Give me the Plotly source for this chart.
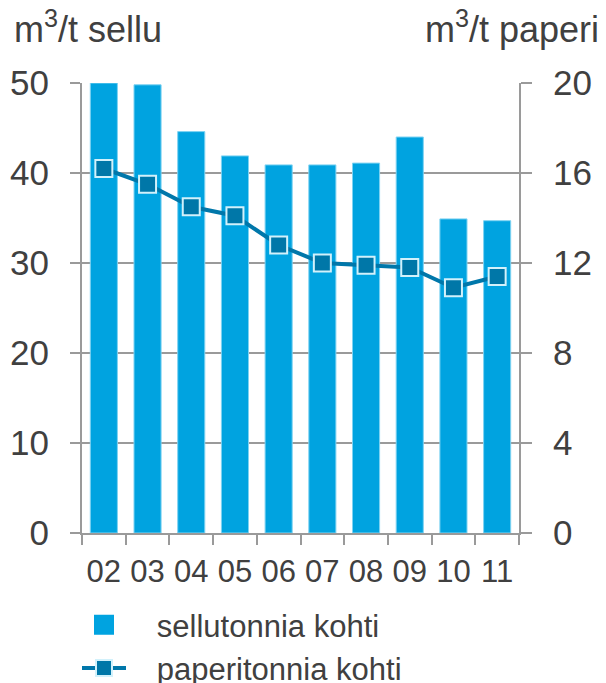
import plotly.graph_objects as go

years = ["02", "03", "04", "05", "06", "07", "08", "09", "10", "11"]
sellu = [50.0, 49.8, 44.6, 41.9, 40.9, 40.9, 41.1, 44.0, 34.9, 34.7]
paperi = [16.2, 15.5, 14.5, 14.1, 12.8, 12.0, 11.9, 11.8, 10.9, 11.4]
left_ticks = [0, 10, 20, 30, 40, 50]
right_ticks = [0, 4, 8, 12, 16, 20]

FONT = "Liberation Sans, Arial, sans-serif"
TXT = "#404040"
GRID = "#9a9a9a"
BAR = "#00A3E0"
NB = "\u00a0\u00a0\u00a0"

L, R, T, B = 82, 87, 83, 150
W, H = 606, 683
PW, PH = W - L - R, H - T - B

fig = go.Figure()
fig.add_trace(go.Bar(
    x=years, y=sellu, name="sellutonnia kohti", showlegend=False,
    marker=dict(color=BAR, line=dict(color="#7FD3F2", width=1)),
    width=0.62, yaxis="y", legendgroup="a",
))
# legend entry for the bars (square symbol, like the reference legend)
fig.add_trace(go.Scatter(
    x=[years[0]], y=[None], name=NB + "sellutonnia kohti", mode="markers",
    marker=dict(symbol="square", size=16, color=BAR,
                line=dict(color=BAR, width=4)),
    legendgroup="a", showlegend=True, hoverinfo="skip",
))
fig.add_trace(go.Scatter(
    x=years, y=paperi, name=NB + "paperitonnia kohti", yaxis="y2",
    mode="lines+markers", legendgroup="b",
    line=dict(color="#0077AA", width=4),
    marker=dict(symbol="square", size=17, color="#0077A8",
                line=dict(color="#D2F1FB", width=2)),
))

fig.update_layout(
    width=W, height=H,
    margin=dict(l=L, r=R, t=T, b=B, autoexpand=False),
    paper_bgcolor="white", plot_bgcolor="white",
    font=dict(family=FONT, color=TXT),
    showlegend=True,
    legend=dict(x=(77 - L) / PW, xanchor="left", y=(PH - (598 - T)) / PH,
                yanchor="top", font=dict(size=31, color=TXT), itemwidth=44,
                tracegroupgap=0, bgcolor="rgba(0,0,0,0)", maxheight=200),
    bargap=0.38,
    xaxis=dict(
        type="category", range=[-0.5, len(years) - 0.5],
        showline=True, linecolor=GRID, linewidth=2,
        ticks="outside", tickson="boundaries", ticklen=10, tickwidth=2,
        tickcolor=GRID, tickfont=dict(size=31, color=TXT), showgrid=False,
        tickangle=0, automargin=False, ticklabelstandoff=10,
    ),
    yaxis=dict(
        range=[0, 50], tickvals=left_ticks, showline=True, linecolor=GRID,
        linewidth=2, ticks="outside", ticklen=10, tickwidth=2, tickcolor=GRID,
        showgrid=True, gridcolor=GRID, gridwidth=2, zeroline=False,
        tickfont=dict(size=35, color=TXT), ticklabelstandoff=14,
        automargin=False,
    ),
    yaxis2=dict(
        range=[0, 20], tickvals=right_ticks, overlaying="y", side="right",
        showline=True, linecolor=GRID, linewidth=2, ticks="outside",
        ticklen=11, tickwidth=2, tickcolor=GRID, showgrid=False,
        zeroline=False, tickfont=dict(size=35, color=TXT),
        ticklabelstandoff=14, automargin=False,
    ),
    annotations=[
        dict(text="m<sup>3</sup>/t sellu", xref="paper", yref="paper",
             x=(12 - L) / PW, y=(PH + T - 27) / PH, xanchor="left",
             yanchor="middle", showarrow=False,
             font=dict(size=36, color=TXT)),
        dict(text="m<sup>3</sup>/t paperi", xref="paper", yref="paper",
             x=(601 - L) / PW, y=(PH + T - 27) / PH, xanchor="right",
             yanchor="middle", showarrow=False,
             font=dict(size=36, color=TXT)),
    ],
)

fig.write_html("out.html",
               config={"displayModeBar": False},
               post_script="document.body.style.margin='0';"
                           "document.body.style.overflow='hidden';")
